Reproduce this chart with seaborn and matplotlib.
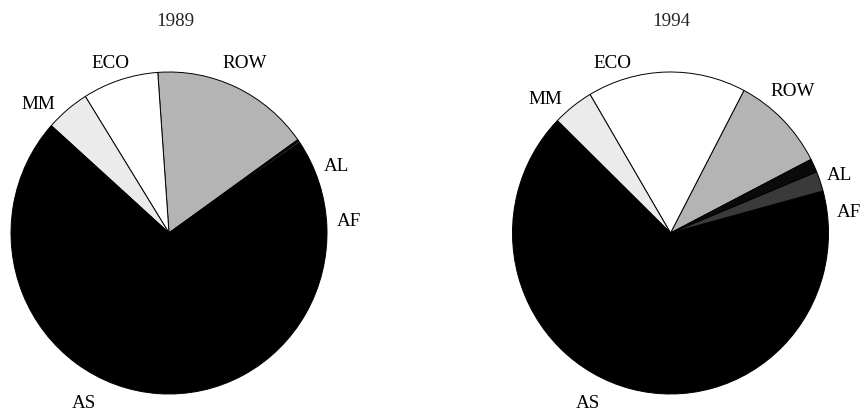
import matplotlib
matplotlib.use("Agg")
import matplotlib.pyplot as plt
import seaborn as sns

# ---- data (percent shares) ----
categories = ["ROW", "ECO", "MM", "AS", "AF", "AL"]
shares_1989 = [16.3, 7.75, 4.5, 71.1, 0.2, 0.15]
shares_1994 = [9.75, 16.2, 4.2, 66.5, 2.0, 1.35]
years = ["1989", "1994"]

# ---- styling / layout ----
sns.set_theme(style="white")
plt.rcParams["font.family"] = ["Liberation Serif", "DejaVu Serif"]
colors = ["#b4b4b4", "#ffffff", "#ebebeb", "#000000", "#3a3a3a", "#0a0a0a"]
start_angles = {"1989": 35.4, "1994": 27.2}
W, H = 861, 411
# pie centre (px from left, px from top) and radii (px)
centres = {"1989": (169, 233), "1994": (670.5, 233)}
rx, ry = 158, 161
label_pos = {
    "1989": {"ROW": (0.48, 1.05), "ECO": (-0.37, 1.05), "MM": (-0.83, 0.80),
             "AS": (-0.54, -1.06), "AF": (1.14, 0.07), "AL": (1.06, 0.41)},
    "1994": {"ROW": (0.77, 0.88), "ECO": (-0.37, 1.05), "MM": (-0.79, 0.83),
             "AS": (-0.52, -1.06), "AF": (1.13, 0.125), "AL": (1.07, 0.36)},
}
title_x = {"1989": 175, "1994": 671.7}

fig = plt.figure(figsize=(W / 100, H / 100), dpi=100)
fig.patch.set_facecolor("white")

for i, (yr, vals) in enumerate(zip(years, [shares_1989, shares_1994])):
    x0 = 0 if i == 0 else 0.5
    ax = fig.add_axes([x0, 0, 0.5, 1])
    ax.pie(vals, labels=categories, colors=colors, startangle=start_angles[yr],
           counterclock=True,
           wedgeprops=dict(edgecolor="black", linewidth=0.7),
           textprops=dict(fontsize=13.7, color="black"))
    cx, cy = centres[yr]
    left_px = x0 * W
    axw = 0.5 * W
    ax.set_aspect("auto")
    ax.set_xlim((left_px - cx) / rx, (left_px + axw - cx) / rx)
    ax.set_ylim(-(H - cy) / ry, cy / ry)
    ax.axis("off")
    for t in ax.texts:
        lab = t.get_text()
        if lab in label_pos[yr]:
            t.set_position(label_pos[yr][lab])
            t.set_ha("center")
            t.set_va("center")
    fig.text(title_x[yr] / W, 1 - 22 / H, yr, ha="center", va="center",
             fontsize=13.7)

fig.savefig("out.png", dpi=100, facecolor="white")
